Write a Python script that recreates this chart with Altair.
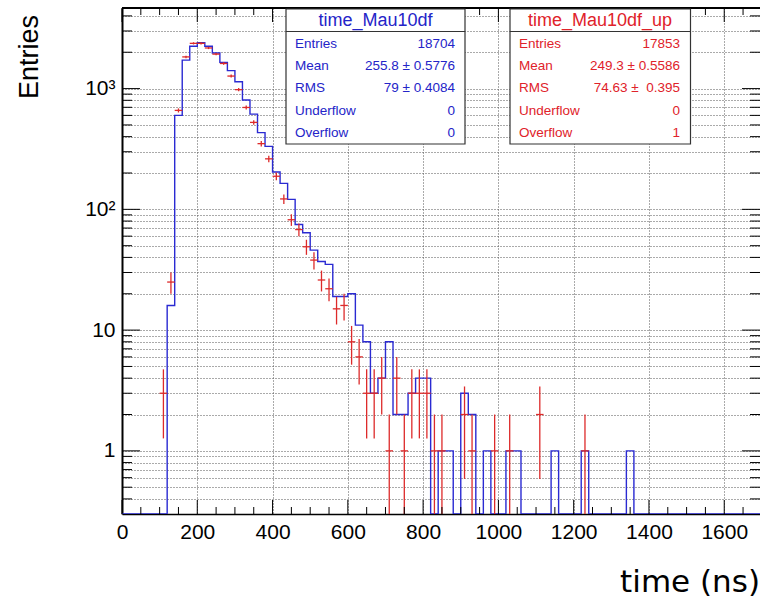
import altair as alt
import pandas as pd

# ---------------- data ----------------
BIN = 20
X_MAX = 1700

blue_bin_low = [120, 140, 160, 180, 200, 220, 240, 260, 280, 300,
                320, 340, 360, 380, 400, 420, 440, 460, 480, 500,
                520, 540, 560, 580, 600, 620, 640, 660, 680, 700,
                720, 740, 760, 780, 800, 840, 860, 900, 920, 960,
                1020, 1040, 1140, 1220, 1340]
blue_counts = [16, 600, 1720, 2240, 2400, 2240, 1970, 1650, 1410, 1140,
               805, 615, 432, 332, 204, 164, 121, 75, 64, 46,
               37, 35, 19, 19, 20, 11, 8, 3, 4, 8,
               2, 2, 3, 4, 4, 1, 1, 3, 2, 1,
               1, 1, 1, 1, 1]

red_bin_low = [100, 120, 140, 160, 180, 200, 220, 240, 260, 280,
               300, 320, 340, 360, 380, 400, 420, 440, 460, 480,
               500, 520, 540, 560, 580, 600, 620, 640, 660, 680,
               700, 720, 740, 760, 780, 800, 820, 840, 900, 920,
               980, 1020, 1100, 1220]
red_counts = [3, 25, 660, 1830, 2370, 2370, 2170, 1930, 1615, 1270,
              980, 698, 525, 350, 262, 188, 122, 82, 68, 49,
              38, 26, 22, 15, 16, 8, 6, 3, 3, 4,
              1, 4, 1, 3, 3, 3, 1, 1, 2, 1,
              1, 1, 2, 1]

x_label_values = [0, 200, 400, 600, 800, 1000, 1200, 1400, 1600]
x_minor_values = [v for v in range(50, 1700, 50) if v % 200 != 0]
y_major_values = [1, 10, 100, 1000]

stat_titles = ["time_Mau10df", "time_Mau10df_up"]
stat_names = ["Entries", "Mean", "RMS", "Underflow", "Overflow"]
stat_blue = ["18704", "255.8 \u00b1 0.5776", "79 \u00b1 0.4084", "0", "0"]
stat_red = ["17853", "249.3 \u00b1 0.5586", "74.63 \u00b1\u00a0\u00a00.395", "0", "1"]

# ---------------- layout / style ----------------
W, H = 638, 506
PAD_L, PAD_T = 122, 8
Y_MIN, Y_MAX = 0.3, 4650
X_DOM = [0, 1695]
FONT = "Liberation Sans"
BLUE = "#2a2ad2"
RED = "#dd2a2a"
TXT_BLUE = "#2424c8"
TXT_RED = "#e0222a"

y_all_values = [round(m * 10 ** k, 6) for k in range(-1, 4) for m in range(1, 10)]
y_all_values = [v for v in y_all_values if Y_MIN < v <= Y_MAX]
y_minor_values = [v for v in y_all_values if v not in y_major_values]

xs = alt.Scale(domain=X_DOM, nice=False, zero=False)
ys = alt.Scale(type="log", domain=[Y_MIN, Y_MAX], nice=False)

label_expr = ("datum.value == 1 ? '1' : datum.value == 10 ? '10' : "
              "datum.value == 100 ? '10\u00b2' : datum.value == 1000 ? '10\u00b3' : ''")

X_AXIS = alt.Axis(
    values=x_label_values, format="d", ticks=False, grid=True, gridDash=[1, 2],
    gridColor="#555", gridWidth=1, domainColor="black", domainWidth=1.5,
    labelFontSize=21, labelPadding=7, labelColor="black", labelFlush=False,
    labelOverlap=False, title=None)
Y_AXIS = alt.Axis(
    values=y_all_values, labelExpr=label_expr, ticks=False, grid=True,
    gridDash=[1, 2], gridColor="#555", gridWidth=1, domainColor="black",
    domainWidth=2, labelFontSize=21, labelPadding=7, labelColor="black",
    labelOverlap=False, labelFlush=False, title=None)

# blue step histogram path built from the bin counts
bmap = dict(zip(blue_bin_low, blue_counts))
rows = []
for i, lo in enumerate(range(0, X_MAX, BIN)):
    v = max(bmap.get(lo, 0), Y_MIN)
    rows.append({"o": 2 * i, "t": lo, "n": v})
    rows.append({"o": 2 * i + 1, "t": lo + BIN, "n": v})
blue_df = pd.DataFrame(rows)

red_df = pd.DataFrame({"lo": red_bin_low, "n": red_counts})
red_df["hi"] = red_df["lo"] + BIN
red_df["c"] = red_df["lo"] + BIN / 2
red_df["elo"] = (red_df["n"] - red_df["n"] ** 0.5).clip(lower=Y_MIN)
red_df["ehi"] = red_df["n"] + red_df["n"] ** 0.5

blue = alt.Chart(blue_df).mark_line(color=BLUE, strokeWidth=1.4, clip=True).encode(
    x=alt.X("t:Q", scale=xs, axis=X_AXIS),
    y=alt.Y("n:Q", scale=ys, axis=Y_AXIS),
    order="o:Q",
)

red_v = alt.Chart(red_df).mark_rule(color=RED, strokeWidth=1.3, clip=True).encode(
    x=alt.X("c:Q", scale=xs, axis=X_AXIS),
    y=alt.Y("elo:Q", scale=ys, axis=Y_AXIS),
    y2="ehi:Q",
)
red_h = alt.Chart(red_df).mark_rule(color=RED, strokeWidth=1.3, clip=True).encode(
    x=alt.X("lo:Q", scale=xs, axis=X_AXIS),
    x2="hi:Q",
    y=alt.Y("n:Q", scale=ys, axis=Y_AXIS),
)


def ytick(vals, x0, x1):
    return alt.Chart(pd.DataFrame({"v": vals})).mark_rule(color="black", strokeWidth=1).encode(
        y=alt.Y("v:Q", scale=ys, axis=Y_AXIS), x=alt.value(x0), x2=alt.value(x1))


def xtick(vals, y0, y1):
    return alt.Chart(pd.DataFrame({"v": vals})).mark_rule(color="black", strokeWidth=1).encode(
        x=alt.X("v:Q", scale=xs, axis=X_AXIS), y=alt.value(y0), y2=alt.value(y1))


one = pd.DataFrame({"a": [0]})


def hline(x0, x1, y, color="black", w=1.5):
    return alt.Chart(one).mark_rule(color=color, strokeWidth=w).encode(
        x=alt.value(x0), x2=alt.value(x1), y=alt.value(y))


def box(x0, x1, y0, y1):
    return alt.Chart(one).mark_rect(fill="white", stroke="#333", strokeWidth=1.2).encode(
        x=alt.value(x0), x2=alt.value(x1), y=alt.value(y0), y2=alt.value(y1))


def txt(s, x, y, size, color, align="left", angle=0, baseline="middle", font=FONT):
    kw = dict(fontSize=size, color=color, align=align, baseline=baseline, font=font)
    if angle:
        kw["angle"] = angle
    return alt.Chart(pd.DataFrame({"s": [s]})).mark_text(**kw).encode(
        x=alt.value(x), y=alt.value(y), text="s:N")


layers = [blue, red_v, red_h,
          ytick(y_major_values, 0, 18), ytick(y_minor_values, 0, 10),
          ytick(y_major_values, W, W - 18), ytick(y_minor_values, W, W - 10),
          xtick(x_label_values, H, H - 14), xtick(x_minor_values, H, H - 7),
          xtick(x_label_values, 0, 14), xtick(x_minor_values, 0, 7),
          hline(0, W, 0, "black", 2)]

row_y = [36, 58, 80, 102.5, 125]
boxes = [
    # x0, x1, title-x, label-x, value-x, title, values, text colour
    (164, 343, 253.5, 173, 333, stat_titles[0], stat_blue, TXT_BLUE),
    (388, 568.5, 478, 397, 558, stat_titles[1], stat_red, TXT_RED),
]
for x0, x1, tx, lx, vx, title, vals, col in boxes:
    layers.append(box(x0, x1, 1, 136))
    layers.append(hline(x0, x1, 23.5, "#333", 1.2))
    layers.append(txt(title, tx, 12.5, 18, col, "center"))
    for name, val, yy in zip(stat_names, vals, row_y):
        layers.append(txt(name, lx, yy, 13.5, col, "left"))
        layers.append(txt(val, vx, yy, 13.5, col, "right"))

layers.append(txt("Entries", -92, 7, 27, "black", "right", angle=270))
layers.append(txt("time (ns)", 638, 584, 31, "black", "right", baseline="alphabetic",
                  font="DejaVu Sans"))

chart = alt.layer(*layers).properties(
    width=W, height=H,
    padding={"left": PAD_L, "top": PAD_T, "right": 0, "bottom": 86},
    autosize=alt.AutoSizeParams(type="none"),
).configure_view(stroke=None).configure_axis(labelFont=FONT)

chart.save("out.html", embed_options={"renderer": "svg", "actions": False})
